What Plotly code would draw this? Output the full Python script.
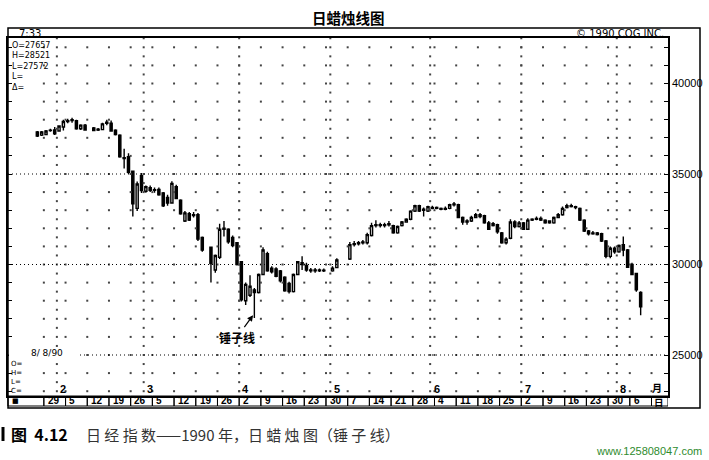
import numpy as np
import pandas as pd
import plotly.graph_objects as go

# ---------------- data ----------------
holidays = ["1990-02-12", "1990-03-21", "1990-04-30", "1990-05-03", "1990-05-04"]
dates = [d.strftime("%Y-%m-%d") for d in pd.bdate_range("1990-01-25", "1990-08-08")
         if d.strftime("%Y-%m-%d") not in holidays]

open_ = [37320, 37150, 37180, 37420, 37440, 37380, 37600, 37950, 37950, 37940, 37500, 37700,
         37540, 37430, 37450, 37800, 37800, 37420, 37150, 35900, 35950, 35150, 33100, 34900,
         34050, 34250, 34100, 34150, 33950, 33700, 33400, 34300, 33550, 32400, 32800, 32700,
         32750, 31500,
         30950, 29700, 30400, 32000, 31950, 31500, 31200, 30150, 28000, 28300, 28600, 28450,
         29450, 30600, 29800, 29750, 29650, 29300, 28950, 28500, 29450, 30100, 29950, 29700,
         29650, 29700, 29650,
         29650, 29830,
         30300, 31100, 31150, 31200, 31200, 31600, 32150, 32200, 32150, 32200, 32150, 31750,
         32150, 32350, 32500, 32950, 33250, 33050, 32950, 33150, 33100, 33100, 33050, 33100,
         33300, 33300, 32600, 32350, 32400, 32600, 32750, 32700, 32300, 32150, 32200, 31750,
         31200, 31450, 32350, 32100, 32300, 31950, 32450, 32500, 32550, 32450, 32300, 32300,
         32600, 32750, 33150, 33250, 33200, 33100, 32450, 31850, 31700, 31750, 31700, 31300,
         30450, 30900, 30700, 31100, 30800, 30000, 29500, 28450]
high = [37380, 37380, 37430, 37500, 37600, 37700, 38000, 38050, 38110, 38000, 37750, 37760,
        37600, 37540, 37830, 38000, 37950, 37470, 37200, 36400, 36150, 35200, 34580, 35050,
        34360, 34360, 34250, 34250, 34000, 33850, 34600, 34400, 33600, 32950, 32900, 32900,
        32850, 31550,
        31000, 30550, 32250, 32400, 32000, 31600, 31250, 30200, 29000, 29400, 28700, 29500,
        30950, 30700, 29900, 29850, 29700, 29350, 29050, 29500, 30200, 30450, 30100, 29800,
        29800, 29780, 29780,
        29900, 30350,
        31250, 31300, 31300, 31350, 31750, 32300, 32450, 32300, 32300, 32400, 32200, 32150,
        32400, 32550, 33000, 33300, 33300, 33150, 33250, 33250, 33200, 33150, 33200, 33350,
        33450, 33350, 32650, 32500, 32700, 32850, 32850, 32750, 32400, 32350, 32250, 31800,
        31500, 32500, 32450, 32400, 32350, 32550, 32550, 32650, 32650, 32500, 32450, 32650,
        32850, 33200, 33350, 33350, 33250, 33150, 32500, 31900, 31850, 31800, 31750, 31350,
        31000, 31000, 31100, 31550, 30850, 30100, 29550, 28521]
low = [37050, 37100, 37150, 37330, 37150, 37330, 37400, 37800, 37830, 37450, 37430, 37400,
       37380, 37380, 37420, 37700, 37330, 37130, 35900, 35300, 35000, 32650, 32950, 33950,
       33970, 34000, 33970, 33800, 33180, 33250, 33350, 33600, 32750, 32350, 32400, 32600,
       31300, 30700,
       29000, 29550, 30300, 31550, 31150, 30950, 29950, 27950, 27760, 28200, 27050, 28400,
       29400, 29600, 29500, 29300, 29000, 28500, 28400, 28450, 29400, 29700, 29600, 29550,
       29550, 29580, 29580,
       29600, 29800,
       30250, 31000, 31050, 31100, 31100, 31550, 32050, 32050, 32050, 32100, 31700, 31700,
       32100, 32300, 32450, 32900, 32900, 32650, 32900, 33050, 33050, 33000, 33000, 33050,
       33200, 32550, 32200, 32200, 32350, 32550, 32550, 32250, 31900, 32100, 31700, 31150,
       31100, 31400, 32000, 32050, 31900, 31900, 32400, 32450, 32400, 32250, 32250, 32250,
       32550, 32700, 33100, 33150, 33050, 32400, 31800, 31600, 31650, 31600, 31250, 30350,
       30350, 30600, 30650, 30450, 29800, 29400, 28500, 27200]
close = [37100, 37320, 37380, 37400, 37220, 37650, 37900, 37900, 38000, 37500, 37700, 37430,
         37400, 37480, 37770, 37860, 37380, 37180, 35950, 35850, 35100, 33350, 34450, 34080,
         34300, 34100, 34130, 33850, 33250, 33400, 34480, 33650, 32800, 32850, 32450, 32750,
         31400, 30800,
         30050, 30500, 31950, 31950, 31250, 31050, 30000, 28050, 28900, 28800, 28450, 29450,
         30800, 29650, 29600, 29350, 29100, 28550, 28500, 29450, 30150, 30000, 29700, 29650,
         29700, 29650, 29680,
         29800, 30250,
         31100, 31150, 31200, 31250, 31650, 32150, 32200, 32150, 32200, 32250, 31750, 32100,
         32350, 32500, 32950, 33250, 32950, 33000, 33200, 33100, 33150, 33050, 33100, 33300,
         33350, 32600, 32350, 32400, 32600, 32750, 32650, 32300, 31950, 32250, 31800, 31200,
         31400, 32350, 32100, 32300, 31950, 32450, 32500, 32550, 32450, 32300, 32400, 32600,
         32750, 33100, 33250, 33200, 33150, 32450, 31850, 31700, 31750, 31650, 31300, 30450,
         30900, 30700, 31050, 30800, 29850, 29450, 28600, 27657]

week_starts = [d.strftime("%Y-%m-%d") for d in pd.date_range("1990-01-29", "1990-08-06", freq="W-MON")]
week_labels = [str(pd.Timestamp(d).day) for d in week_starts]
month_labels = ["2", "3", "4", "5", "6", "7", "8"]
y_tick_vals = list(range(23000, 42001, 1000))
y_label_vals = [25000, 30000, 35000, 40000]
info_top = ["O=27657", "H=28521", "L=27572", "L=", "Δ="]
info_bottom = ["O=", "H=", "L=", "C="]

# ---------------- positions (weekday index from 29 Jan) ----------------
ORIGIN = "1990-01-29"
pos = np.busday_count(ORIGIN, dates)
week_pos = np.busday_count(ORIGIN, week_starts) - 0.5
month_first = []
for m in range(2, 9):
    first = [d for d in dates if int(d[5:7]) == m][0]
    month_first.append(int(np.busday_count(ORIGIN, first)))
month_first = np.array(month_first)

X0, X1 = -8.76, 143.3
Y0, Y1 = 22735, 42514
W, H = 709, 460
ML, MR, MT, MB = 8, 41, 38, 64
PW, PH = W - ML - MR, H - MT - MB


def px(x):
    return (x - ML) / PW


def py(y):
    return (H - MB - y) / PH


def xdata_to_px(x):
    return ML + (x - X0) / (X1 - X0) * PW


fig = go.Figure()

# dot grid
gx, gy = [], []
cols = list(week_pos) + [week_pos[-1] + 5]
for c in cols:
    for v in y_tick_vals:
        gx.append(c)
        gy.append(v)
for c in month_first - 0.5:
    for v in range(23000, 42501, 500):
        gx.append(c)
        gy.append(v)
fig.add_trace(go.Scatter(x=gx, y=gy, mode="markers",
                         marker=dict(size=2, color="#444", symbol="square"),
                         hoverinfo="skip", showlegend=False))

fig.add_trace(go.Candlestick(
    x=pos, open=open_, high=high, low=low, close=close,
    increasing=dict(line=dict(color="black", width=1.4), fillcolor="white"),
    decreasing=dict(line=dict(color="black", width=1.4), fillcolor="black"),
    whiskerwidth=0, showlegend=False))

shapes = []
for v in [25000, 30000, 35000]:
    shapes.append(dict(type="line", xref="paper", yref="y", x0=0, x1=1, y0=v, y1=v,
                       line=dict(color="black", width=1, dash="1px,3px")))
# outer frame
shapes.append(dict(type="rect", xref="paper", yref="paper", x0=0, x1=px(700),
                   y0=py(408), y1=py(28), line=dict(color="black", width=1.5)))
# date row boxes
shapes.append(dict(type="rect", xref="paper", yref="paper", x0=0, x1=px(xdata_to_px(week_pos[0])),
                   y0=py(406), y1=0, line=dict(color="black", width=1)))
for wp in week_pos:
    shapes.append(dict(type="rect", xref="x", yref="paper", x0=wp, x1=wp + 5,
                       y0=py(406), y1=0, line=dict(color="black", width=1)))
shapes.append(dict(type="rect", xref="x", yref="paper", x0=week_pos[-1] + 5, x1=X1,
                   y0=py(406), y1=0, line=dict(color="black", width=1)))
# white patch behind the date stamp on the 25000 line
shapes.append(dict(type="rect", xref="paper", yref="paper", x0=px(9), x1=px(78),
                   y0=py(359), y1=py(348), line=dict(width=0), fillcolor="white", layer="above"))
# caption bar
shapes.append(dict(type="line", xref="paper", yref="paper", x0=px(3), x1=px(3),
                   y0=py(441), y1=py(427), line=dict(color="black", width=3)))

ann = []


def txt(t, x, y, size=10, xanchor="left", family="DejaVu Sans", color="black", bg=None,
        xref="paper", yref="paper", yanchor="middle"):
    d = dict(text=t, x=x, y=y, xref=xref, yref=yref, showarrow=False, xanchor=xanchor,
             yanchor=yanchor, align="left", font=dict(size=size, family=family, color=color))
    if bg:
        d["bgcolor"] = bg
    ann.append(d)


txt("<b>日蜡烛线图</b>", px(348), py(18), 14.5, "center", "Noto Sans CJK SC")
txt("7:33", px(17), py(33), 10)
txt("© 1990 CQG INC.", px(666), py(33), 10, "right")
txt("<br>".join(info_top), px(10), py(39), 8, yanchor="top")
txt("8/ 8/90", px(29), py(353), 9)
txt("<br>".join(info_bottom), px(9), py(358), 7, yanchor="top")
for lab, mf in zip(month_labels, month_first):
    txt("<b>%s</b>" % lab, mf + 1, py(389), 11, "center", "Liberation Sans", xref="x")
txt("<b>月</b>", px(657), py(387), 10, "center", "Noto Sans CJK SC")
txt("<b>■</b>", px(10), py(401), 7)
for lab, wp in zip(week_labels, week_pos):
    txt("<b>%s</b>" % lab, wp + 0.4, py(401), 10, "left", "Liberation Sans", xref="x")
txt("<b>日</b>", px(659), py(402), 9.5, "center", "Noto Sans CJK SC")
txt("<b>图  4.12</b>", px(9), py(434), 16, "left", "Noto Sans CJK SC")
txt("日 经 指 数——1990 年，日 蜡 烛 图（锤 子 线）", px(84), py(434), 15, "left",
    "Noto Sans CJK SC", color="#333")
txt("www.125808047.com", px(704), py(451), 11, "right", "Liberation Sans", color="#2e8b2e")

hammer = 48
hi = list(pos).index(hammer)
ann.append(dict(text="<b>锤子线</b>", x=pos[hi] - 0.3, y=low[hi] + 150,
                xref="x", yref="y", showarrow=True, arrowhead=2, arrowsize=1, arrowwidth=1.2,
                arrowcolor="black", ax=-16, ay=22,
                font=dict(size=12, family="Noto Sans CJK SC", color="black")))

fig.update_layout(
    width=W, height=H, margin=dict(l=ML, r=MR, t=MT, b=MB, autoexpand=False),
    paper_bgcolor="white", plot_bgcolor="white",
    shapes=shapes, annotations=ann, showlegend=False,
    xaxis=dict(range=[X0, X1], showgrid=False, zeroline=False, showticklabels=False,
               ticks="", showline=True, linecolor="black", linewidth=1.5, mirror=True,
               rangeslider=dict(visible=False), fixedrange=True),
    yaxis=dict(range=[Y0, Y1], side="right", showgrid=False, zeroline=False,
               tickvals=y_tick_vals,
               ticktext=[str(v) if v in y_label_vals else "" for v in y_tick_vals],
               ticks="inside", ticklen=4, tickcolor="black", showline=True, linecolor="black",
               linewidth=1.5, mirror="ticks",
               tickfont=dict(size=11, family="Liberation Sans", color="black"),
               fixedrange=True, automargin=False),
)

fig.write_html("out.html", config={"displayModeBar": False},
               post_script="document.body.style.margin='0px';document.body.style.padding='0px';")
